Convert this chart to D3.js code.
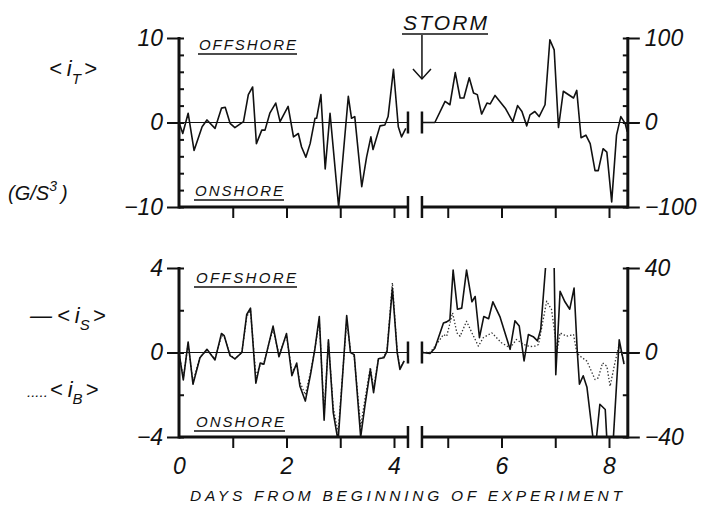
<!DOCTYPE html>
<html>
<head>
<meta charset="utf-8">
<script src="https://cdn.jsdelivr.net/npm/d3@7"></script>
<style>
body { margin: 0; background: #fff; }
svg text { font-family: "Liberation Sans", Arial, sans-serif; font-style: italic; fill: #111; }
</style>
</head>
<body>
<svg width="702" height="505"></svg>
<script>
// <i_T>, total flux, left part (days 0-4.25) in left units, storm part in right units
var tLeftDays = [0, 0.07, 0.17, 0.28, 0.43, 0.52, 0.67, 0.79, 0.86, 0.95, 1.04, 1.2, 1.29, 1.37, 1.44, 1.54, 1.6, 1.69, 1.8, 1.88, 2.03, 2.13, 2.22, 2.28, 2.36, 2.44, 2.53, 2.56, 2.64, 2.72, 2.81, 2.97, 3.15, 3.21, 3.27, 3.4, 3.49, 3.57, 3.61, 3.74, 3.83, 3.89, 3.99, 4.08, 4.14, 4.22];
var tLeftVals = [0, -1.3, 1.1, -3.3, -0.5, 0.3, -0.7, 1.7, 1.8, -0.1, -0.6, 0.1, 3.3, 4.2, -2.5, -0.9, -0.9, 1.1, 2.3, 0.1, 1.9, -1.7, -1.3, -2.9, -4.1, -2.5, 0.5, 0.5, 3.3, -5.5, 1.1, -10, 3.1, 0.5, 0.7, -7.6, -4.1, -1.7, -3.2, -0.4, -0.3, 0.7, 6.3, -0.5, -1.7, -0.7];
var tRightDays = [4.53, 4.76, 4.95, 5.04, 5.14, 5.23, 5.3, 5.4, 5.48, 5.55, 5.63, 5.73, 5.79, 5.88, 6.07, 6.21, 6.3, 6.38, 6.47, 6.53, 6.62, 6.7, 6.81, 6.9, 6.98, 7.06, 7.15, 7.34, 7.4, 7.48, 7.57, 7.65, 7.74, 7.8, 7.89, 7.96, 8.05, 8.14, 8.22, 8.3, 8.34];
var tRightVals = [0, 0, 25, 21, 59, 29, 29, 53, 35, 33, 10, 23, 22, 32, 17, 1, 20, 13, -4, 9, 13, 7, 21, 98, 86, -6, 37, 29, 38, -18, -15, -25, -57, -57, -31, -35, -94, -15, 7, -1, -11];

// <i_S> (solid) and <i_B> (dotted)
var sLeftDays = [0, 0.08, 0.17, 0.26, 0.39, 0.52, 0.67, 0.79, 0.84, 0.95, 1.04, 1.17, 1.26, 1.33, 1.43, 1.51, 1.58, 1.66, 1.75, 1.86, 2.0, 2.1, 2.19, 2.25, 2.35, 2.45, 2.53, 2.61, 2.7, 2.78, 2.87, 2.96, 3.12, 3.19, 3.26, 3.38, 3.46, 3.56, 3.62, 3.71, 3.81, 3.87, 3.97, 4.06, 4.11, 4.19];
var sLeftVals = [0, -1.3, 0.5, -1.5, -0.25, 0.15, -0.35, 0.9, 0.8, -0.15, -0.3, 0, 1.8, 2.1, -1.45, -0.5, -0.55, 0.3, 1.25, -0.2, 0.9, -1.1, -0.5, -1.6, -2.3, -1, 0.2, 1.7, -3.2, 0.6, -2.85, -4.2, 1.75, 0, -0.1, -4, -2.5, -0.8, -1.9, -0.3, -0.25, 0.05, 3.05, 0, -0.8, -0.4];
var bLeftVals = [0, -1.2, 0.4, -1.4, -0.2, 0.1, -0.3, 0.8, 0.75, -0.1, -0.3, 0, 1.7, 2.0, -1.1, -0.6, -0.5, 0.3, 1.1, -0.1, 0.8, -0.9, -0.6, -1.4, -2.0, -0.9, 0.2, 1.5, -2.9, 0.5, -2.6, -3.8, 1.5, 0.1, -0.2, -3.5, -2.2, -0.7, -1.7, -0.3, -0.2, 0.1, 3.3, 0, -0.7, -0.4];
var sRightDays = [4.53, 4.67, 4.76, 4.92, 4.98, 5.04, 5.1, 5.18, 5.26, 5.35, 5.45, 5.51, 5.59, 5.67, 5.76, 5.84, 5.97, 6.16, 6.25, 6.33, 6.42, 6.5, 6.59, 6.67, 6.73, 6.82, 6.88, 6.98, 7.01, 7.09, 7.18, 7.27, 7.35, 7.41, 7.45, 7.52, 7.59, 7.7, 7.76, 7.83, 7.93, 7.96, 8.08, 8.19, 8.28];
var sRightVals = [0, -0.5, 2, 14, 14.5, 15.5, 39, 20.5, 21, 39, 24, 26.5, 7, 17, 16, 24, 17, 1.5, 15, 12.5, -4, 8.5, 7.5, 5.5, 11, 40.5, 70, 40.5, -10.5, 29, 24, 20.5, 30.5, 0.5, -15, -11, -16.5, -40, -42, -24.5, -27, -41, -41, 6, -5.5];
var bRightDays = [4.53, 4.67, 4.79, 4.92, 4.98, 5.09, 5.17, 5.23, 5.35, 5.45, 5.57, 5.66, 5.82, 6.0, 6.16, 6.28, 6.41, 6.53, 6.62, 6.69, 6.84, 6.93, 7.0, 7.03, 7.09, 7.21, 7.34, 7.4, 7.46, 7.59, 7.74, 7.8, 7.88, 7.96, 8.02, 8.11, 8.19, 8.28];
var bRightVals = [0, 0, 3.8, 8.5, 7.7, 18.8, 9.3, 7.7, 14.8, 9.3, 3, 7, 9.3, 4.6, 2.2, 6.2, 3.8, 2.8, 3, 3.8, 24.3, 20.4, 7.7, 0, 9.3, 7.7, 8.5, 0, -1.7, -4.1, -12.8, -12, -4.9, -6.5, -16, -4.9, 3.8, -4.9];

var dayTicks = [1, 2, 3, 4, 5, 6, 7, 8];
var dayLabels = [0, 2, 4, 6, 8];
var topLeftTicks = [-10, 0, 10], topRightTicks = [-100, 0, 100];
var botLeftTicks = [-4, 0, 4], botRightTicks = [-40, 0, 40];

var svg = d3.select("svg");
var x = d3.scaleLinear().domain([0, 8]).range([179, 609]);
var xEnd = 8.35, breakL = 4.26, breakR = 4.52;

var yT = d3.scaleLinear().domain([-10, 10]).range([207, 38]);
var yTr = d3.scaleLinear().domain([-100, 100]).range([207, 38]);
var yB = d3.scaleLinear().domain([-4, 4]).range([437, 268]);
var yBr = d3.scaleLinear().domain([-40, 40]).range([437, 268]);

function styleText(sel, size) {
    sel.selectAll("text").style("font-size", size + "px")
        .style("font-family", "'Liberation Sans', Arial, sans-serif").style("font-style", "italic");
}

function hline(x1, x2, y, w) {
    svg.append("line").attr("x1", x1).attr("x2", x2).attr("y1", y).attr("y2", y)
        .style("stroke", "#111").style("stroke-width", w);
}
function vline(xp, y1, y2, w) {
    svg.append("line").attr("x1", xp).attr("x2", xp).attr("y1", y1).attr("y2", y2)
        .style("stroke", "#111").style("stroke-width", w);
}

function drawFrame(id, yl, yr, lMajor, rMajor, lStep, rStep, withLabels) {
    var y0 = yl(0), yBot = yl.range()[0], yTop = yl.range()[1];

    // zero line, broken
    hline(x(0) - 12, x(breakL), y0, 1);
    hline(x(breakR), x(xEnd) + 12, y0, 1);

    // bottom axis, broken
    hline(x(0), x(breakL), yBot, 3);
    hline(x(breakR), x(xEnd), yBot, 3);
    [breakL, breakR].forEach(function (b) {
        vline(x(b), yBot - 11, yBot + 11, 2.5);
        vline(x(b), y0 - 11, y0 + 11, 2.5);
    });

    // side axes
    vline(x(0), yTop - 1, yBot + 1.5, 3);
    vline(x(xEnd), yTop - 1, yBot + 1.5, 3);

    var lMinor = d3.range(yl.domain()[0], yl.domain()[1] + 0.01, lStep);
    var rMinor = d3.range(yr.domain()[0], yr.domain()[1] + 0.01, rStep);

    var gl = svg.append("g").attr("transform", "translate(" + x(0) + ",0)")
        .call(d3.axisLeft(yl).tickValues(lMajor).tickSize(12).tickPadding(4).tickSizeOuter(0).tickFormat(d3.format("d")));
    var gli = svg.append("g").attr("transform", "translate(" + x(0) + ",0)")
        .call(d3.axisRight(yl).tickValues(lMinor).tickSize(5).tickSizeOuter(0).tickFormat(""));
    var gr = svg.append("g").attr("transform", "translate(" + x(xEnd) + ",0)")
        .call(d3.axisRight(yr).tickValues(rMajor).tickSize(12).tickPadding(5).tickSizeOuter(0).tickFormat(d3.format("d")));
    var gri = svg.append("g").attr("transform", "translate(" + x(xEnd) + ",0)")
        .call(d3.axisLeft(yr).tickValues(rMinor).tickSize(5).tickSizeOuter(0).tickFormat(""));
    var gx = svg.append("g").attr("transform", "translate(0," + yBot + ")")
        .call(d3.axisBottom(x).tickValues(dayTicks).tickSize(11).tickSizeOuter(0).tickFormat(""));

    [gl, gli, gr, gri, gx].forEach(function (g) {
        g.select(".domain").remove();
        g.selectAll(".tick line").style("stroke", "#111").style("stroke-width", 2);
    });
    styleText(gl, 23);
    styleText(gr, 23);

    if (withLabels) {
        var gxl = svg.append("g").attr("transform", "translate(0," + yBot + ")")
            .call(d3.axisBottom(x).tickValues(dayLabels).tickSize(0).tickPadding(21));
        gxl.select(".domain").remove();
        styleText(gxl, 23);
    }

    svg.append("clipPath").attr("id", id)
        .append("rect").attr("x", x(0)).attr("y", yTop)
        .attr("width", x(xEnd) - x(0)).attr("height", yBot - yTop);
}

function drawSeries(id, days, vals, y, dotted) {
    var line = d3.line().x(function (d) { return x(d[0]); }).y(function (d) { return y(d[1]); });
    svg.append("path")
        .attr("d", line(d3.zip(days, vals)))
        .attr("clip-path", "url(#" + id + ")")
        .style("fill", "none")
        .style("stroke", dotted ? "#333" : "#111")
        .style("stroke-width", dotted ? 1.3 : 1.6)
        .style("stroke-dasharray", dotted ? "1.4,2" : null)
        .style("stroke-linejoin", "round");
}

drawFrame("clipTop", yT, yTr, topLeftTicks, topRightTicks, 2, 20, false);
drawFrame("clipBot", yB, yBr, botLeftTicks, botRightTicks, 2, 20, true);

drawSeries("clipTop", tLeftDays, tLeftVals, yT, false);
drawSeries("clipTop", tRightDays, tRightVals, yTr, false);

drawSeries("clipBot", sLeftDays, bLeftVals, yB, true);
drawSeries("clipBot", bRightDays, bRightVals, yBr, true);
drawSeries("clipBot", sLeftDays, sLeftVals, yB, false);
drawSeries("clipBot", sRightDays, sRightVals, yBr, false);

// labels
function label(txt, xp, yp, size, len) {
    var t = svg.append("text").attr("x", xp).attr("y", yp).style("font-size", size + "px").text(txt);
    if (len) t.attr("textLength", len).attr("lengthAdjust", "spacing");
    return t;
}
function underline(x1, x2, yp) {
    hline(x1, x2, yp, 1.5);
}

label("OFFSHORE", 199, 50, 15, 97); underline(198, 297, 54);
label("ONSHORE", 195, 196, 15, 88); underline(194, 284, 200);
label("OFFSHORE", 196, 283, 15, 100); underline(194, 297, 287);
label("ONSHORE", 196, 427, 15, 88); underline(194, 285, 431);

// storm marker
label("STORM", 403, 30, 21, 84); underline(402, 488, 34);
vline(x(breakR), 35, 79, 1.5);
svg.append("path").attr("d", "M" + (x(breakR) - 9) + ",69 L" + x(breakR) + ",79 L" + (x(breakR) + 9) + ",69")
    .style("fill", "none").style("stroke", "#111").style("stroke-width", 1.5);

// left titles
var it = label("<", 49, 76, 22);
it.append("tspan").attr("dx", 5).text("i");
it.append("tspan").attr("dy", 8).style("font-size", "15px").text("T");
it.append("tspan").attr("dy", -8).attr("dx", 3).text(">");

var un = label("(G/S", 8, 200, 20);
un.append("tspan").attr("dy", -9).style("font-size", "14px").text("3");
un.append("tspan").attr("dy", 9).attr("dx", 4).text(")");

var is = label("\u2014", 30, 323, 22);
is.append("tspan").attr("dx", 5).text("<");
is.append("tspan").attr("dx", 5).text("i");
is.append("tspan").attr("dy", 7).style("font-size", "15px").text("S");
is.append("tspan").attr("dy", -7).attr("dx", 3).text(">");

var ib = label(".....", 27, 397, 15);
ib.append("tspan").style("font-size", "22px").attr("dx", 2).text("<");
ib.append("tspan").style("font-size", "22px").attr("dx", 5).text("i");
ib.append("tspan").attr("dy", 7).style("font-size", "15px").text("B");
ib.append("tspan").attr("dy", -7).style("font-size", "22px").attr("dx", 3).text(">");

label("DAYS FROM BEGINNING OF EXPERIMENT", 190, 501, 15.5, 432);
</script>
</body>
</html>
